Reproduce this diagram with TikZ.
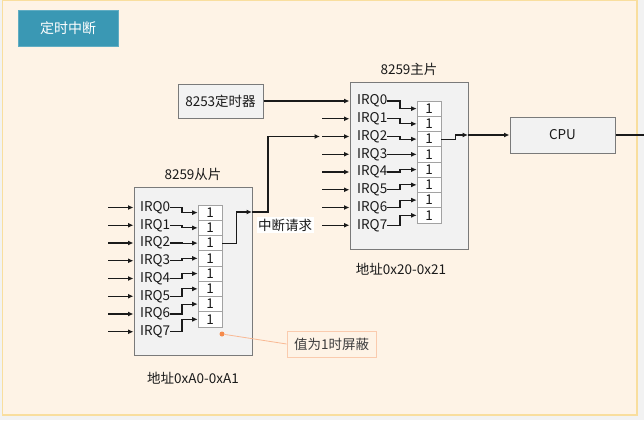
\documentclass[tikz,border=0pt]{standalone}
\usepackage{fontspec}
\setmainfont{Noto Sans CJK SC}
\usetikzlibrary{arrows.meta,positioning}
\definecolor{paper}{HTML}{FEF3E6}
\definecolor{frame}{HTML}{F9DE9E}
\definecolor{chip}{HTML}{F2F2F2}
\definecolor{edge}{HTML}{7A7A7A}
\definecolor{titlebg}{HTML}{3A98B4}
\definecolor{note}{HTML}{F58B4C}
\definecolor{ink}{HTML}{1A1A1A}

\begin{document}
\begin{tikzpicture}[x=1pt,y=-1pt,font=\fontsize{13.5}{16}\selectfont,text=ink,
      chipbox/.style={rectangle,draw=edge,fill=chip,line width=1pt},
      cell/.style={rectangle,draw=edge!70,fill=white,line width=0.6pt,
                   minimum width=24pt,minimum height=15.25pt,inner sep=0pt},
      lab/.style={anchor=west,inner sep=0pt},
      a/.style={-{Latex[length=5.5pt,width=5pt]},line width=1.2pt,draw=ink}]
  \useasboundingbox (0,0) rectangle (644,420);
  \fill[chip] (0,0) rectangle (644,420);
  \draw[frame,fill=paper,line width=1.5pt] (2.5,0.5) rectangle (637,415);

  \node[fill=titlebg,draw=titlebg!80!white,text=white,minimum width=100pt,
        minimum height=36pt,font=\fontsize{14}{16}\selectfont] (ttl) at (68,28) {定时中断};

  % chips
  \node[chipbox,minimum width=85pt,minimum height=34pt] (t8253) at (220.5,101) {8253定时器};
  \node[chipbox,minimum width=118pt,minimum height=167pt] (mst) at (409,165.5) {};
  \node[above=2pt of mst] (mstname) {8259主片};
  \node[below=10pt of mst,xshift=-8pt] (mstaddr) {地址0x20-0x21};
  \node[chipbox,minimum width=118pt,minimum height=168pt] (slv) at (193,271) {};
  \node[above=2pt of slv] (slvname) {8259从片};
  \node[below=13pt of slv] (slvaddr) {地址0xA0-0xA1};
  \node[chipbox,minimum width=105pt,minimum height=36pt] (cpu) at (562.5,135) {CPU};

  \coordinate (sk) at (182,0);
  \coordinate (mk) at (400,0);

  % slave: inputs, IRQ lines, mask cells
  \foreach \i in {0,...,7}{
    \node[lab] (si\i) at (140,{207.5+17.75*\i}) {IRQ\i};
    \node[cell] (sc\i) at (210,{212.6+15.25*\i}) {1};
    \coordinate (sin\i) at (108,{207.5+17.75*\i});
    \draw[a] (sin\i) -- (sin\i -| slv.west);
    \draw[a] (si\i.east) -- (sk |- si\i.east) |- (sc\i.west);
  }

  % master: IRQ lines, mask cells
  \foreach \i in {0,...,7}{
    \node[lab] (mi\i) at (357,{101+17.75*\i}) {IRQ\i};
    \node[cell] (mc\i) at (429,{108.6+15.25*\i}) {1};
    \coordinate (min\i) at (322,{101+17.75*\i});
    \draw[a] (mi\i.east) -- (mk |- mi\i.east) |- (mc\i.west);
  }
  \foreach \i in {1,...,7}
    \draw[a] (min\i) -- (min\i -| mst.west);

  \draw[a] (t8253.east) -- (t8253.east -| mst.west);

  % cascade
  \coordinate (sout) at (252,212);
  \draw[a] (sc2.east) -- ++(14,0) |- (sout);
  \draw[a] (sout) -- ++(16,0) |- ([xshift=-2pt]min2);
  \node[fill=white,inner sep=1.5pt] (req) at (285,225) {中断请求};

  % to cpu
  \coordinate (mout) at (468,135);
  \draw[a] (mc2.east) -- ++(14,0) |- (mout);
  \draw[a] (mout) -- (cpu.west);
  \coordinate (cpuo) at (644,135);
  \draw[line width=1.2pt,ink] (cpu.east) -- (cpuo);

  % note
  \node[circle,fill=note,inner sep=0pt,minimum size=5pt] (dot) at (222,334) {};
  \node[draw=note!45,fill=paper,line width=0.8pt,minimum width=89pt,minimum height=26pt,
        text=ink!85] (tip) at (331.5,344) {值为1时屏蔽};
  \draw[note!60,line width=0.8pt] (dot) -- (tip.west);
\end{tikzpicture}
\end{document}
